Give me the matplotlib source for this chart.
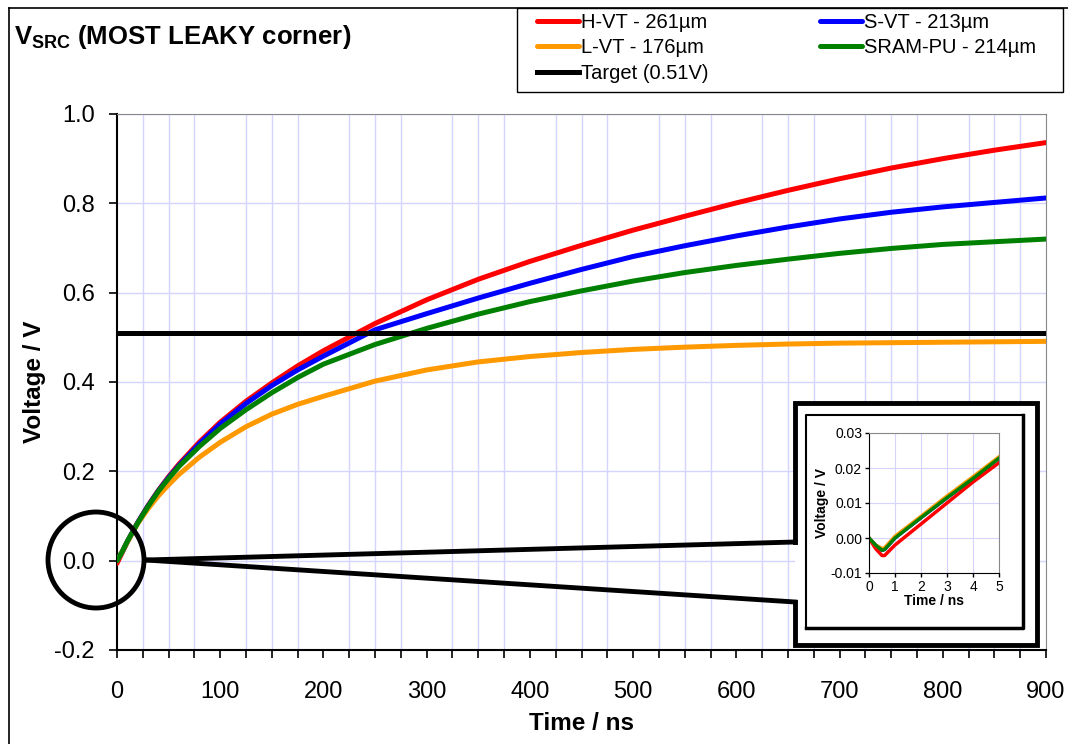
import matplotlib
matplotlib.use("Agg")
import matplotlib.pyplot as plt
from matplotlib.lines import Line2D
from matplotlib.patches import Rectangle, Ellipse

plt.rcParams['font.family'] = ['Liberation Sans', 'DejaVu Sans']
plt.rcParams['mathtext.fontset'] = 'custom'
plt.rcParams['mathtext.rm'] = 'Liberation Sans'
plt.rcParams['mathtext.bf'] = 'Liberation Sans:bold'

# main chart data (time in ns, voltage in V)
t = [0, 5, 10, 20, 30, 40, 50, 60, 80, 100, 125, 150, 175, 200, 250, 300,
     350, 400, 450, 500, 550, 600, 650, 700, 750, 800, 850, 900]
hvt = [-0.006, 0.018, 0.042, 0.085, 0.123, 0.157, 0.188, 0.216, 0.266, 0.310, 0.357,
       0.398, 0.436, 0.470, 0.531, 0.584, 0.630, 0.670, 0.706, 0.740, 0.771,
       0.801, 0.829, 0.855, 0.879, 0.900, 0.919, 0.936]
svt = [0.0, 0.020, 0.043, 0.085, 0.122, 0.156, 0.186, 0.213, 0.262, 0.306, 0.352,
       0.392, 0.427, 0.458, 0.517, 0.553, 0.588, 0.621, 0.652, 0.681, 0.705,
       0.727, 0.747, 0.765, 0.780, 0.792, 0.802, 0.812]
lvt = [0.0, 0.020, 0.042, 0.083, 0.116, 0.145, 0.170, 0.193, 0.232, 0.265, 0.300,
       0.328, 0.350, 0.368, 0.402, 0.427, 0.445, 0.457, 0.466, 0.473, 0.478,
       0.482, 0.485, 0.487, 0.488, 0.489, 0.490, 0.491]
sram = [0.0, 0.020, 0.043, 0.084, 0.121, 0.155, 0.184, 0.211, 0.256, 0.296, 0.338,
        0.376, 0.410, 0.440, 0.484, 0.520, 0.552, 0.580, 0.604, 0.626, 0.645,
        0.661, 0.675, 0.688, 0.699, 0.708, 0.714, 0.720]
target = 0.51

# zoomed inset data (first 5 ns)
t_in = [0, 0.25, 0.5, 0.6, 1, 2, 3, 4, 5]
hvt_in = [0.0, -0.003, -0.005, -0.005, -0.002, 0.004, 0.010, 0.016, 0.0215]
svt_in = [0.0, -0.002, -0.0035, -0.0033, 0.0, 0.0058, 0.0115, 0.017, 0.0228]
lvt_in = [0.0, -0.002, -0.003, -0.0028, 0.0005, 0.0062, 0.012, 0.0175, 0.0232]
sram_in = [0.0, -0.002, -0.0035, -0.0033, 0.0, 0.0058, 0.0115, 0.017, 0.0228]

labels = ['H-VT - 261µm', 'S-VT - 213µm', 'L-VT - 176µm', 'SRAM-PU - 214µm', 'Target (0.51V)']
colors = ['#ff0000', '#0000ff', '#ff9900', '#008000', '#000000']

W, H = 1068, 744
def fx(x): return x / W
def fy(y): return 1 - y / H

fig = plt.figure(figsize=(W / 100, H / 100), dpi=100)
grid_c = '#d4d4ff'

ax = fig.add_axes([fx(117), fy(650), (1046 - 117) / W, (650 - 114) / H])
series = [hvt, svt, lvt, sram]
handles = []
for ys, c, lab in zip(series, colors[:4], labels[:4]):
    h, = ax.plot(t, ys, color=c, lw=3.6, label=lab, solid_capstyle='round', zorder=3)
    handles.append(h)
ht = ax.axhline(target, color='black', lw=3.6, label=labels[4], zorder=3)
handles.append(ht)

ax.set_xlim(0, 900)
ax.set_ylim(-0.2, 1.0)
ax.set_xticks(range(0, 901, 100))
ax.set_xticks(range(0, 901, 25), minor=True)
ax.set_yticks([-0.2, 0, 0.2, 0.4, 0.6, 0.8, 1.0])
ax.set_yticklabels(['-0.2', '0.0', '0.2', '0.4', '0.6', '0.8', '1.0'])
ax.tick_params(axis='both', which='both', direction='out', length=6, width=1.2, labelsize=17)
ax.tick_params(axis='x', pad=16)
ax.tick_params(axis='y', pad=10)
ax.grid(True, axis='x', which='minor', color=grid_c, lw=1)
ax.grid(True, axis='y', which='major', color=grid_c, lw=1)
ax.set_axisbelow(True)
for s in ['top', 'right']:
    ax.spines[s].set_color('#888888')
for s in ['left', 'bottom']:
    ax.spines[s].set_linewidth(1.5)
ax.set_xlabel('Time / ns', fontsize=17.5, fontweight='bold', labelpad=7)
ax.set_ylabel('Voltage / V', fontsize=17.5, fontweight='bold', labelpad=6)

# outer frame of the whole chart
fig.add_artist(Line2D([fx(9), fx(9)], [fy(8), fy(760)], color='black', lw=1.2, transform=fig.transFigure))
fig.add_artist(Line2D([fx(9), fx(1080)], [fy(8), fy(8)], color='black', lw=1.2, transform=fig.transFigure))

fig.text(fx(14), fy(37), r'$\mathbf{V_{SRC}}$ (MOST LEAKY corner)', fontsize=18.5,
         fontweight='bold', va='center', ha='left')

# legend box
fig.add_artist(Rectangle((fx(517), fy(92)), (1063 - 517) / W, (92 - 8) / H, fill=False,
                         ec='black', lw=1.0, transform=fig.transFigure))
order = [0, 2, 4, 1, 3]
leg = fig.legend([handles[i] for i in order], [labels[i] for i in order], ncol=2,
                 loc='upper left', bbox_to_anchor=(fx(533), fy(9)), fontsize=14.5,
                 frameon=False, handlelength=2.1, handletextpad=0.1, columnspacing=5.5,
                 labelspacing=0.32, borderpad=0.2, borderaxespad=0)

# callout: circle, connecting lines and boxes
fig.add_artist(Ellipse((fx(96), fy(560)), 2 * 48 / W, 2 * 48 / H, fill=False, ec='black',
                       lw=3.5, transform=fig.transFigure, zorder=4))
fig.add_artist(Rectangle((fx(795), fy(645)), (1037 - 795) / W, (645 - 403) / H, fc='white',
                         ec='none', transform=fig.transFigure, zorder=3))
fig.add_artist(Line2D([fx(146), fx(795)], [fy(560), fy(542)], color='black', lw=3.5,
                      transform=fig.transFigure, zorder=4))
fig.add_artist(Line2D([fx(146), fx(795)], [fy(560), fy(602)], color='black', lw=3.5,
                      transform=fig.transFigure, zorder=4))
fig.add_artist(Line2D([fx(795), fx(795), fx(1037), fx(1037), fx(795), fx(795)],
                      [fy(542), fy(403), fy(403), fy(645), fy(645), fy(602)], color='black',
                      lw=3.5, transform=fig.transFigure, zorder=4, solid_joinstyle='miter'))
fig.add_artist(Line2D([fx(806), fx(806), fx(1023)], [fy(628), fy(415), fy(415)], color='black',
                      lw=1.5, transform=fig.transFigure, zorder=4))
fig.add_artist(Line2D([fx(1023), fx(1023), fx(806)], [fy(415), fy(628), fy(628)], color='black',
                      lw=2.5, transform=fig.transFigure, zorder=4))

ins = fig.add_axes([fx(869), fy(573), 130 / W, 140 / H])
ins.set_zorder(5)
for ys, c in zip([svt_in, hvt_in, lvt_in, sram_in], [colors[1], colors[0], colors[2], colors[3]]):
    ins.plot(t_in, ys, color=c, lw=2.5)
ins.set_xlim(0, 5)
ins.set_ylim(-0.01, 0.03)
ins.set_xticks(range(0, 6))
ins.set_yticks([-0.01, 0, 0.01, 0.02, 0.03])
ins.set_yticklabels(['-0.01', '0.00', '0.01', '0.02', '0.03'])
ins.tick_params(axis='both', direction='out', length=3, width=1, labelsize=10, pad=2)
ins.grid(True, color=grid_c, lw=0.8)
ins.set_axisbelow(True)
for s in ['top', 'right']:
    ins.spines[s].set_color('#888888')
ins.set_xlabel('Time / ns', fontsize=10, fontweight='bold', labelpad=0)
ins.set_ylabel('Voltage / V', fontsize=10, fontweight='bold', labelpad=1)

fig.savefig('out.png', dpi=100)
